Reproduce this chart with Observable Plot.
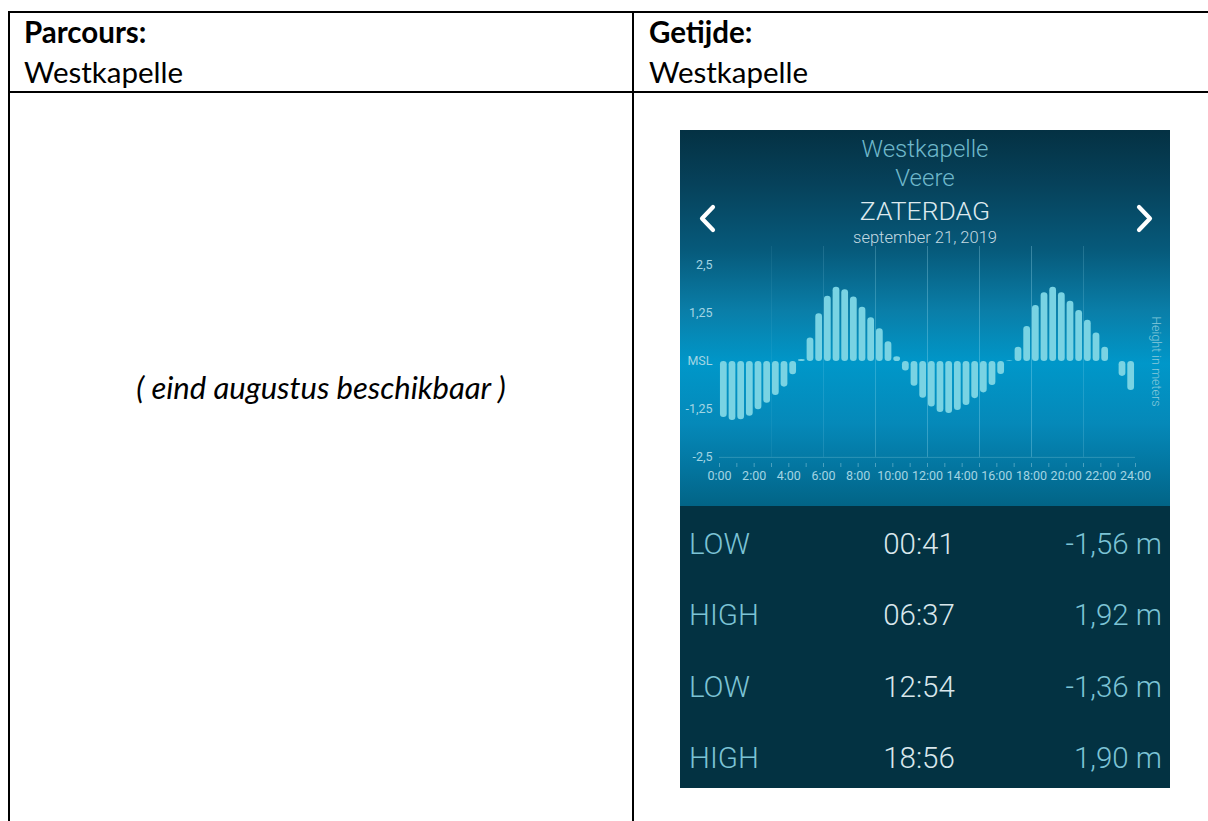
<!DOCTYPE html>
<html><head><meta charset="utf-8">
<script src="https://cdn.jsdelivr.net/npm/d3@7"></script>
<script src="https://cdn.jsdelivr.net/npm/@observablehq/plot@0.6"></script>
<style>
html,body{margin:0;padding:0;background:#fff;width:1208px;height:821px;overflow:hidden;}
body{position:relative;font-family:Lato,"Open Sans",sans-serif;}
.ln{position:absolute;background:#000;}
.doc{position:absolute;color:#000;font-size:29.5px;line-height:40px;white-space:nowrap;}
#panel{position:absolute;left:680px;top:130px;width:490px;height:658px;background:#033242;overflow:hidden;font-family:Roboto,sans-serif;}
#chartbg{position:absolute;left:0;top:0;width:490px;height:376px;
 background:linear-gradient(to bottom,#043143 0%,#06415a 14%,#065a7b 32%,#0a7ea8 48%,#0097c9 62%,#0589b9 78%,#03759f 90%,#026486 100%);}
.ht{position:absolute;left:0;width:490px;text-align:center;white-space:nowrap;}
#chart{position:absolute;left:0;top:106px;}
#chart svg text{font-size:12.5px !important;}
.row{position:absolute;left:0;width:490px;height:40px;font-size:29.5px;font-weight:300;line-height:40px;}
.row .k{position:absolute;left:9px;color:#7cc3d5;}
.row .t{position:absolute;left:0;width:478px;text-align:center;color:#d9e7ec;}
.row .v{position:absolute;right:8px;color:#7cc3d5;}
.chev{position:absolute;}
#chart svg g[aria-label="x-axis tick"] path{stroke-opacity:0.45;}
</style>
</head><body>
<div class="ln" style="left:8px;top:11px;width:1200px;height:2px"></div>
<div class="ln" style="left:8px;top:91px;width:1200px;height:2px"></div>
<div class="ln" style="left:8px;top:11px;width:2px;height:810px"></div>
<div class="ln" style="left:632px;top:11px;width:2px;height:810px"></div>
<div class="doc" style="left:24px;top:12px;font-weight:bold">Parcours:</div>
<div class="doc" style="left:24px;top:52px">Westkapelle</div>
<div class="doc" style="left:649px;top:12px;font-weight:bold">Getijde:</div>
<div class="doc" style="left:649px;top:52px">Westkapelle</div>
<div class="doc" style="left:10px;width:622px;top:367px;text-align:center;font-style:italic;font-size:31px">( eind augustus beschikbaar )</div>

<div id="panel">
  <div id="chartbg"></div>
  <div class="ht" style="top:4px;font-size:24px;font-weight:300;color:#6fb8cb;line-height:30px">Westkapelle</div>
  <div class="ht" style="top:33px;font-size:24px;font-weight:300;color:#6fb8cb;line-height:30px">Veere</div>
  <div class="ht" style="top:66px;font-size:26.5px;font-weight:300;color:#dde9ee;line-height:30px">ZATERDAG</div>
  <div class="ht" style="top:98px;font-size:16.5px;font-weight:300;color:#c4dae2;line-height:20px">september 21, 2019</div>
  <svg class="chev" style="left:14px;top:74px" width="26" height="30"><polyline points="19,3 8,14.5 19,26" fill="none" stroke="#fff" stroke-width="4.2" stroke-linecap="round" stroke-linejoin="round"/></svg>
  <svg class="chev" style="left:452px;top:74px" width="26" height="30"><polyline points="7,3 18,14.5 7,26" fill="none" stroke="#fff" stroke-width="4.2" stroke-linecap="round" stroke-linejoin="round"/></svg>
  <div id="chart"></div>
  <div id="rows"></div>
</div>

<script>
// half-hour slot centres (hours) and water height (m) per slot
const hours = [0.25,0.75,1.25,1.75,2.25,2.75,3.25,3.75,4.25,4.75,5.25,5.75,
  6.25,6.75,7.25,7.75,8.25,8.75,9.25,9.75,10.25,10.75,11.25,11.75,
  12.25,12.75,13.25,13.75,14.25,14.75,15.25,15.75,16.25,16.75,17.25,17.75,
  18.25,18.75,19.25,19.75,20.25,20.75,21.25,21.75,22.25,22.75,23.25,23.75];
const heights = [-1.46,-1.54,-1.52,-1.43,-1.26,-1.09,-0.89,-0.67,-0.35,0.05,0.61,1.24,
  1.70,1.93,1.87,1.68,1.41,1.14,0.85,0.51,0.12,-0.25,-0.65,-0.96,
  -1.19,-1.33,-1.36,-1.28,-1.15,-0.97,-0.82,-0.63,-0.34,0.02,0.37,0.91,
  1.46,1.79,1.93,1.79,1.57,1.33,1.07,0.74,0.37,null,-0.39,-0.76];
const gridHours = [3,6,9,12,15,18,21];
const gridOpacity = [0.08,0.14,0.25,0.3,0.3,0.3,0.18];
const xTickHours = [0,1,2,3,4,5,6,7,8,9,10,11,12,13,14,15,16,17,18,19,20,21,22,23,24];
const xLabelHours = [0,2,4,6,8,10,12,14,16,18,20,22,24];
const xLabels = ["0:00","2:00","4:00","6:00","8:00","10:00","12:00","14:00","16:00","18:00","20:00","22:00","24:00"];
const yTicks = [2.5,1.25,0,-1.25,-2.5];
const yLabels = ["2,5","1,25","MSL","-1,25","-2,5"];
const tideTypes = ["LOW","HIGH","LOW","HIGH"];
const tideTimes = ["00:41","06:37","12:54","18:56"];
const tideHeights = ["-1,56 m","1,92 m","-1,36 m","1,90 m"];

const bars = hours.map((h,i)=>({h, v: heights[i]})).filter(d=>d.v!=null);
const grid = gridHours.map((h,i)=>({h, o: gridOpacity[i]}));
const halfW = 0.195;

const chart = Plot.plot({
  width: 490, height: 254,
  marginLeft: 39, marginRight: 35, marginTop: 10, marginBottom: 27,
  style: {background: "transparent", color: "#a3d5e3", fontFamily: "Roboto, sans-serif", fontSize: "12.5px", overflow: "visible"},
  x: {domain: [0,24], ticks: xTickHours, tickSize: 4, tickPadding: 4,
      tickFormat: d => { const i = xLabelHours.indexOf(d); return i >= 0 ? xLabels[i] : ""; }, label: null},
  y: {domain: [-2.66, 2.995], ticks: yTicks, tickSize: 0, tickPadding: 7,
      tickFormat: d => yLabels[yTicks.indexOf(d)], label: null},
  marks: [
    Plot.ruleX(grid, {x: "h", y1: -2.5, y2: 2.995, stroke: "#a8e6f5", strokeOpacity: "o", strokeWidth: 1}),
    Plot.ruleY([-2.5], {stroke: "#8fd0e2", strokeOpacity: 0.3}),
    Plot.rect(bars, {x1: d => d.h - halfW, x2: d => d.h + halfW, y1: 0, y2: "v", rx: 3.3, fill: "#79d3e3"}),
    Plot.text(["Height in meters"], {x: 24, y: 0, dx: 20, rotate: 90, fill: "#86c8da", fontSize: 12.5, fontWeight: 300})
  ]
});
document.getElementById("chart").appendChild(chart);

const rows = document.getElementById("rows");
tideTypes.forEach((k,i)=>{
  const r = document.createElement("div");
  r.className = "row";
  r.style.top = (394 + i*71.3) + "px";
  r.innerHTML = `<span class="k">${k}</span><span class="t">${tideTimes[i]}</span><span class="v">${tideHeights[i]}</span>`;
  rows.appendChild(r);
});
</script>
</body></html>
